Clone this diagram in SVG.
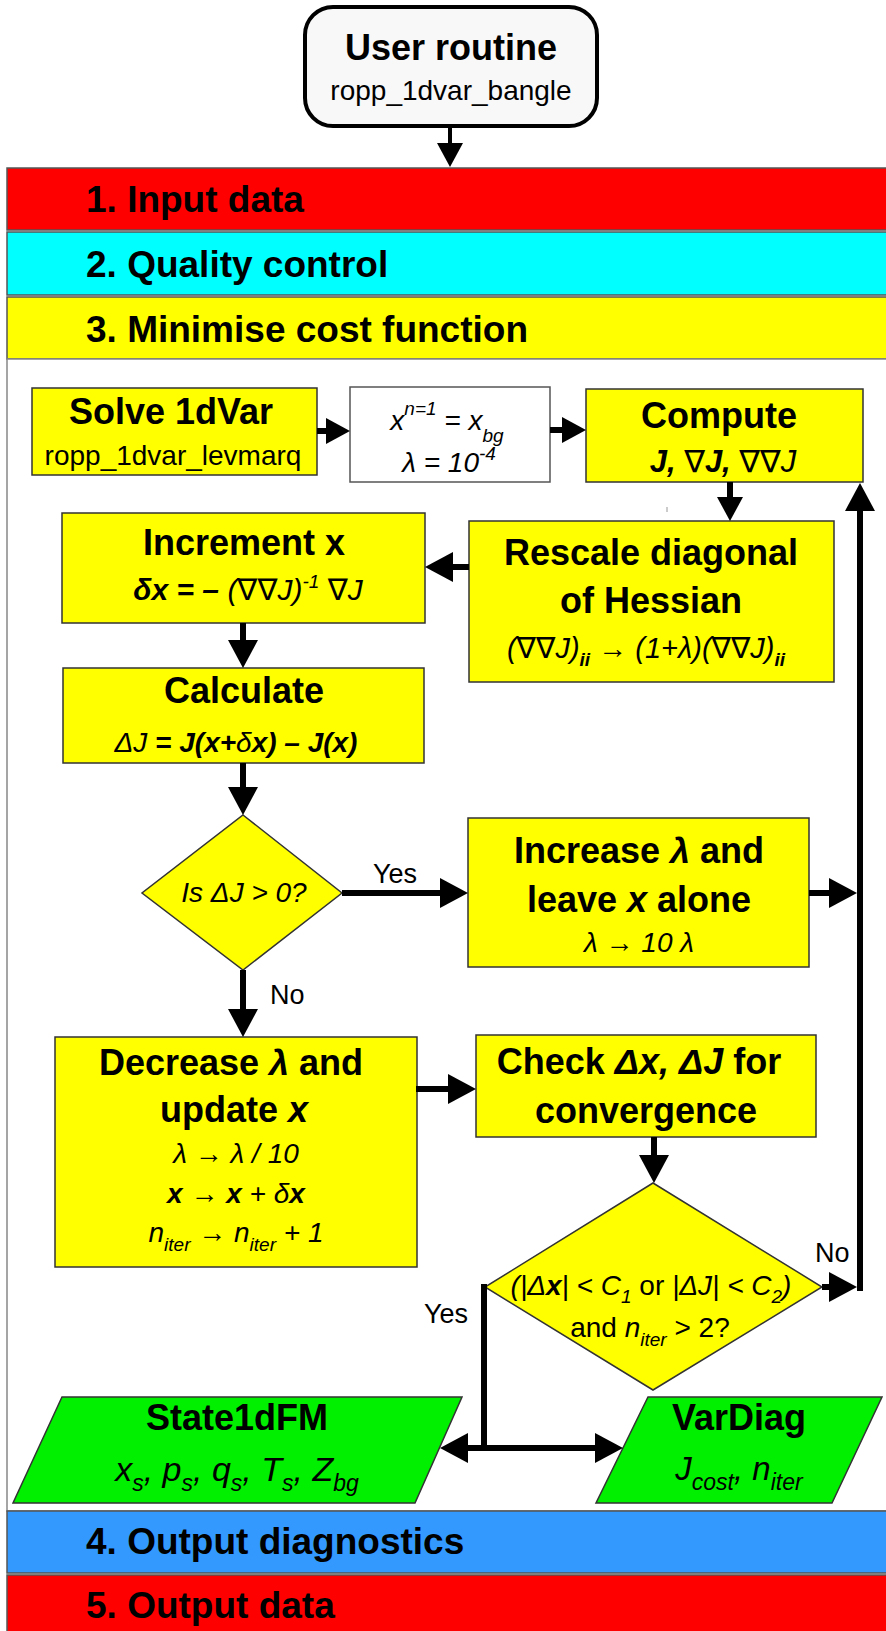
<svg xmlns="http://www.w3.org/2000/svg" width="886" height="1631" viewBox="0 0 886 1631">
<style>
text{font-family:"Liberation Sans",Arial,"DejaVu Sans",sans-serif;fill:#000}
.m{text-anchor:middle}
.b{font-weight:bold;font-size:36px}
.bt{font-weight:bold;font-size:37px}
.r{font-size:28px}
.i{font-style:italic;font-size:28px}
.bi{font-style:italic;font-weight:bold}
.lab{font-size:27px}
.box{fill:#FFFF00;stroke:#333;stroke-width:1.5}
.par{fill:#00F000;stroke:#333;stroke-width:1.5}
.band{stroke:#555;stroke-width:1.5}
.c{stroke:#000;stroke-width:6;fill:none}
</style>
<defs>
<marker id="ah" markerUnits="userSpaceOnUse" markerWidth="28" markerHeight="30" viewBox="0 0 28 30" refX="2" refY="15" orient="auto-start-reverse"><path d="M0,0 L28,15 L0,30 z" fill="#000"/></marker>
<marker id="as" markerUnits="userSpaceOnUse" markerWidth="24" markerHeight="26" viewBox="0 0 24 26" refX="2" refY="13" orient="auto-start-reverse"><path d="M0,0 L24,13 L0,26 z" fill="#000"/></marker>
</defs>

<g id="bands">
<rect x="7" y="168" width="890" height="62" fill="#FF0000" class="band"/>
<rect x="7" y="232" width="890" height="63" fill="#00FFFF" class="band"/>
<rect x="7" y="297" width="890" height="62" fill="#FFFF00" class="band"/>
<rect x="7" y="359" width="890" height="1152" fill="#FFFFFF" stroke="#888" stroke-width="1.5"/>
<rect x="7" y="1511" width="890" height="62" fill="#3399FF" class="band"/>
<rect x="7" y="1575" width="890" height="62" fill="#FF0000" class="band"/>
<text x="86" y="212" class="bt">1. Input data</text>
<text x="86" y="277" class="bt">2. Quality control</text>
<text x="86" y="342" class="bt">3. Minimise cost function</text>
<text x="86" y="1554" class="bt">4. Output diagnostics</text>
<text x="86" y="1618" class="bt">5. Output data</text>
</g>

<g id="user">
<rect x="305" y="7" width="292" height="119" rx="28" fill="#F8F8F8" stroke="#000" stroke-width="4"/>
<text x="451" y="60" class="b m">User routine</text>
<text x="451" y="100" class="r m">ropp_1dvar_bangle</text>
</g>

<g id="solve">
<rect x="32" y="388" width="285" height="87" class="box"/>
<text x="171" y="424" class="b m">Solve 1dVar</text>
<text x="173" y="465" class="r m">ropp_1dvar_levmarq</text>
</g>

<g id="init">
<rect x="350" y="387" width="200" height="95" fill="#FFFFFF" stroke="#555" stroke-width="1.5"/>
<text x="447" y="430" class="i m">x<tspan dy="-15" font-size="19">n=1</tspan><tspan dy="15"> = x</tspan><tspan dy="12" font-size="19">bg</tspan></text>
<text x="449" y="472" class="i m">λ = 10<tspan dy="-12" font-size="19">-4</tspan></text>
</g>

<g id="compute">
<rect x="586" y="389" width="277" height="93" class="box"/>
<text x="723" y="472" class="i m" style="font-size:31px"><tspan font-weight="bold">J, </tspan>∇<tspan font-weight="bold">J, </tspan>∇∇J</text>
<text x="719" y="428" class="b m">Compute</text>
</g>

<line id="stray" x1="667" y1="507" x2="667" y2="512" stroke="#999" stroke-width="1"/>

<g id="rescale">
<rect x="469" y="521" width="365" height="161" class="box"/>
<text x="651" y="565" class="b m">Rescale diagonal</text>
<text x="651" y="613" class="b m">of Hessian</text>
<text x="646" y="658" class="i m" style="font-size:29px">(∇∇J)<tspan dy="8" font-size="19" font-weight="bold">ii</tspan><tspan dy="-8"> → (1+λ)(∇∇J)</tspan><tspan dy="8" font-size="19" font-weight="bold">ii</tspan></text>
</g>

<g id="increment">
<rect x="62" y="513" width="363" height="110" class="box"/>
<text x="244" y="555" class="b m">Increment x</text>
<text x="248" y="600" class="i m" style="font-size:30px"><tspan font-weight="bold">δx = –</tspan> (∇∇J)<tspan dy="-12" font-size="19">-1</tspan><tspan dy="12">  ∇J</tspan></text>
</g>

<g id="calculate">
<rect x="63" y="668" width="361" height="95" class="box"/>
<text x="244" y="703" class="b m">Calculate</text>
<text x="236" y="752" class="i m">ΔJ <tspan font-weight="bold">= J(x+</tspan>δ<tspan font-weight="bold">x) – J(x)</tspan></text>
</g>

<g id="isdj">
<polygon points="243,815 342,893 243,970 142,893" class="box"/>
<text x="244" y="902" class="i m">Is ΔJ &gt; 0?</text>
</g>

<g id="increase">
<rect x="468" y="818" width="341" height="149" class="box"/>
<text x="639" y="863" class="b m">Increase <tspan class="bi">λ</tspan> and</text>
<text x="639" y="912" class="b m">leave <tspan class="bi">x</tspan> alone</text>
<text x="639" y="952" class="i m">λ → 10 λ</text>
</g>

<g id="decrease">
<rect x="55" y="1037" width="362" height="230" class="box"/>
<text x="231" y="1075" class="b m">Decrease <tspan class="bi">λ</tspan> and</text>
<text x="234" y="1122" class="b m">update <tspan class="bi">x</tspan></text>
<text x="236" y="1163" class="i m">λ → λ / 10</text>
<text x="236" y="1203" class="i m"><tspan font-weight="bold">x</tspan> → <tspan font-weight="bold">x</tspan> + δ<tspan font-weight="bold">x</tspan></text>
<text x="236" y="1242" class="i m">n<tspan dy="9" font-size="19">iter</tspan><tspan dy="-9"> → n</tspan><tspan dy="9" font-size="19">iter</tspan><tspan dy="-9"> + 1</tspan></text>
</g>

<g id="check">
<rect x="476" y="1035" width="340" height="102" class="box"/>
<text x="639" y="1074" class="b m">Check <tspan class="bi">Δx, ΔJ</tspan> for</text>
<text x="646" y="1123" class="b m">convergence</text>
</g>

<g id="conv">
<polygon points="653,1183 822,1287 653,1390 485,1287" class="box"/>
<text x="651" y="1295" class="r m"><tspan font-style="italic">(|Δ</tspan><tspan class="bi">x</tspan><tspan font-style="italic">| &lt; C</tspan><tspan dy="8" font-size="19" font-style="italic">1</tspan><tspan dy="-8"> or </tspan><tspan font-style="italic">|ΔJ| &lt; C</tspan><tspan dy="8" font-size="19" font-style="italic">2</tspan><tspan dy="-8" font-style="italic">)</tspan></text>
<text x="650" y="1337" class="r m">and <tspan font-style="italic">n</tspan><tspan dy="9" font-size="19" font-style="italic">iter</tspan><tspan dy="-9"> &gt; 2?</tspan></text>
</g>

<g id="state1dfm">
<polygon points="62,1397 462,1397 415,1503 13,1503" class="par"/>
<text x="237" y="1430" class="b m">State1dFM</text>
<text x="237" y="1481" class="i m" style="font-size:34px">x<tspan dy="10" font-size="23">s</tspan><tspan dy="-10">, p</tspan><tspan dy="10" font-size="23">s</tspan><tspan dy="-10">, q</tspan><tspan dy="10" font-size="23">s</tspan><tspan dy="-10">, T</tspan><tspan dy="10" font-size="23">s</tspan><tspan dy="-10">, Z</tspan><tspan dy="10" font-size="23">bg</tspan></text>
</g>

<g id="vardiag">
<polygon points="648,1397 882,1397 832,1503 596,1503" class="par"/>
<text x="739" y="1430" class="b m">VarDiag</text>
<text x="739" y="1480" class="i m" style="font-size:33px">J<tspan dy="10" font-size="23">cost</tspan><tspan dy="-10">, n</tspan><tspan dy="10" font-size="23">iter</tspan></text>
</g>

<g id="connectors">
<line x1="450" y1="128" x2="450" y2="145" stroke="#000" stroke-width="4" marker-end="url(#as)"/>
<line x1="317" y1="431" x2="328" y2="431" class="c" stroke-width="7" marker-end="url(#as)"/>
<line x1="550" y1="430" x2="564" y2="430" class="c" stroke-width="7" marker-end="url(#as)"/>
<line x1="730" y1="482" x2="730" y2="499" class="c" stroke-width="5" marker-end="url(#as)"/>
<line x1="469" y1="567" x2="451" y2="567" class="c" marker-end="url(#ah)"/>
<line x1="243" y1="623" x2="243" y2="642" class="c" stroke-width="7" marker-end="url(#ah)"/>
<line x1="243" y1="763" x2="243" y2="789" class="c" stroke-width="7" marker-end="url(#ah)"/>
<line x1="342" y1="893" x2="442" y2="893" class="c" marker-end="url(#ah)"/>
<line x1="809" y1="893" x2="831" y2="893" class="c" stroke-width="7" marker-end="url(#ah)"/>
<line x1="243" y1="970" x2="243" y2="1011" class="c" stroke-width="7" marker-end="url(#ah)"/>
<line x1="416" y1="1089" x2="450" y2="1089" class="c" stroke-width="7" marker-end="url(#ah)"/>
<line x1="654" y1="1137" x2="654" y2="1157" class="c" stroke-width="7" marker-end="url(#ah)"/>
<line x1="822" y1="1287" x2="831" y2="1287" class="c" stroke-width="8" marker-end="url(#ah)"/>
<path d="M860,1291 V509" class="c" stroke-width="7" marker-end="url(#ah)"/>
<path d="M484,1284 V1448" class="c" stroke-width="6"/>
<line x1="466" y1="1448" x2="597" y2="1448" class="c" stroke-width="7" marker-start="url(#ah)" marker-end="url(#ah)"/>
<text x="373" y="883" class="lab">Yes</text>
<text x="270" y="1004" class="lab">No</text>
<text x="815" y="1262" class="lab">No</text>
<text x="424" y="1323" class="lab">Yes</text>
</g>
</svg>
